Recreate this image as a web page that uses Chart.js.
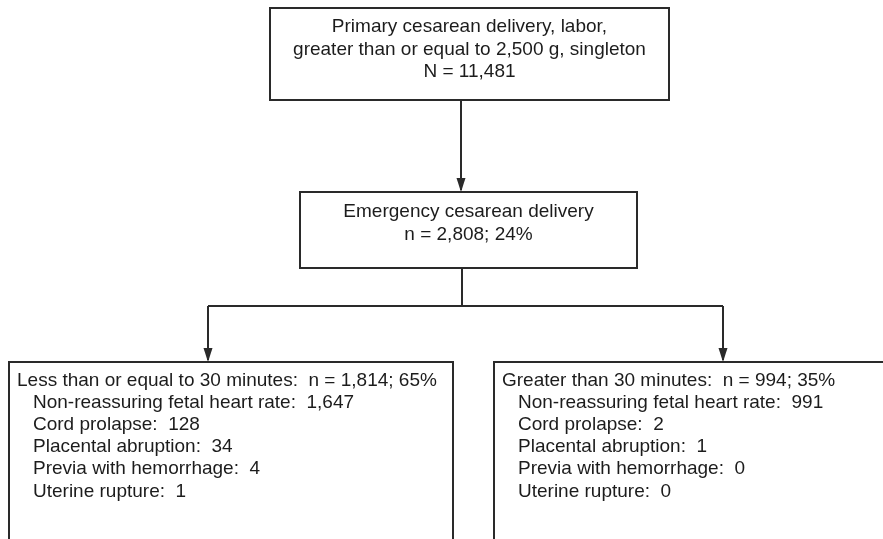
<!DOCTYPE html>
<html>
<head>
<meta charset="utf-8">
<script src="https://cdn.jsdelivr.net/npm/chart.js@4/dist/chart.umd.min.js"></script>
<style>
html, body { margin: 0; padding: 0; background: #fff; }
canvas { display: block; }
</style>
</head>
<body>
<canvas id="flujo" width="883" height="539"></canvas>
<script>
// ======================================
// DATOS
// ======================================

const topLabel = ["Primary cesarean delivery, labor,", "greater than or equal to 2,500 g, singleton"];
const totalN = 11481;

const emergencyLabel = "Emergency cesarean delivery";
const emergencyN = 2808;
const emergencyPct = 24;

const groups = ["Less than or equal to 30 minutes", "Greater than 30 minutes"];
const groupN = [1814, 994];
const groupPct = [65, 35];

const reasons = ["Non-reassuring fetal heart rate", "Cord prolapse", "Placental abruption", "Previa with hemorrhage", "Uterine rupture"];
const le30 = [1647, 128, 34, 4, 1];
const gt30 = [991, 2, 1, 0, 0];

// ======================================
// LAYOUT (coordenadas de la escala, y hacia abajo)
// ======================================

const boxes = {
  top:   {x1: 270, y1: 8,   x2: 669, y2: 100},
  mid:   {x1: 300, y1: 192, x2: 637, y2: 268},
  left:  {x1: 9,   y1: 362, x2: 453, y2: 560},
  right: {x1: 494, y1: 362, x2: 900, y2: 560}
};
const branchY = 306;
const leftX = 208;
const rightX = 723;

const fmt = v => v.toLocaleString("en-US");
const FONT = '19px "Liberation Sans", Arial, sans-serif';
const INK = "#1c1c1c";
const LINE = "#2a2a2a";

// conectores como datasets de linea
function seg(pts){
  return {
    data: pts.map(p => ({x: p[0], y: p[1]})),
    showLine: true,
    borderColor: LINE,
    borderWidth: 2,
    pointRadius: 0,
    fill: false
  };
}

const conectores = [
  seg([[461, boxes.top.y2], [461, boxes.mid.y1 - 2]]),
  seg([[462, boxes.mid.y2], [462, branchY]]),
  seg([[leftX, branchY], [rightX, branchY]]),
  seg([[leftX, branchY], [leftX, boxes.left.y1 - 2]]),
  seg([[rightX, branchY], [rightX, boxes.right.y1 - 2]])
];

const flechas = [[461, boxes.mid.y1], [leftX, boxes.left.y1], [rightX, boxes.right.y1]];

// ======================================
// PLUGIN CAJAS Y TEXTO
// ======================================

const cajasPlugin = {
  id: "cajas",
  afterDatasetsDraw(chart){
    const ctx = chart.ctx;
    const xs = chart.scales.x;
    const ys = chart.scales.y;
    const px = v => xs.getPixelForValue(v);
    const py = v => ys.getPixelForValue(v);

    ctx.save();
    ctx.strokeStyle = LINE;
    ctx.lineWidth = 2;
    Object.values(boxes).forEach(b => {
      ctx.strokeRect(px(b.x1), py(b.y1), px(b.x2) - px(b.x1), py(b.y2) - py(b.y1));
    });

    // puntas de flecha
    ctx.fillStyle = LINE;
    flechas.forEach(f => {
      const x = px(f[0]), y = py(f[1]);
      ctx.beginPath();
      ctx.moveTo(x, y);
      ctx.lineTo(x - 4.5, y - 14);
      ctx.lineTo(x + 4.5, y - 14);
      ctx.closePath();
      ctx.fill();
    });

    ctx.fillStyle = INK;
    ctx.font = FONT;
    ctx.textBaseline = "alphabetic";

    // caja superior
    ctx.textAlign = "center";
    const cTop = px((boxes.top.x1 + boxes.top.x2) / 2);
    const lineasTop = topLabel.concat(["N = " + fmt(totalN)]);
    lineasTop.forEach((t, i) => ctx.fillText(t, cTop, py(32 + i * 22.5)));

    // caja media
    const cMid = px((boxes.mid.x1 + boxes.mid.x2) / 2);
    ctx.fillText(emergencyLabel, cMid, py(217));
    ctx.fillText("n = " + fmt(emergencyN) + "; " + emergencyPct + "%", cMid, py(239.5));

    // cajas inferiores
    ctx.textAlign = "left";
    const grupos = [
      {b: boxes.left, vals: le30},
      {b: boxes.right, vals: gt30}
    ];
    grupos.forEach((g, k) => {
      const y0 = 385.5;
      ctx.fillText(groups[k] + ":  n = " + fmt(groupN[k]) + "; " + groupPct[k] + "%", px(g.b.x1 + 8), py(y0));
      reasons.forEach((r, i) => {
        ctx.fillText(r + ":  " + fmt(g.vals[i]), px(g.b.x1 + 24), py(y0 + 22.2 * (i + 1)));
      });
    });
    ctx.restore();
  }
};

// ======================================
// GRAFICO
// ======================================

new Chart(document.getElementById("flujo"), {
  type: "scatter",
  data: { datasets: conectores },
  options: {
    responsive: false,
    animation: false,
    events: [],
    layout: { padding: 0 },
    plugins: { legend: { display: false }, tooltip: { enabled: false } },
    scales: {
      x: { type: "linear", min: 0, max: 883, display: false },
      y: { type: "linear", min: 0, max: 539, reverse: true, display: false }
    }
  },
  plugins: [cajasPlugin]
});
</script>
</body>
</html>
